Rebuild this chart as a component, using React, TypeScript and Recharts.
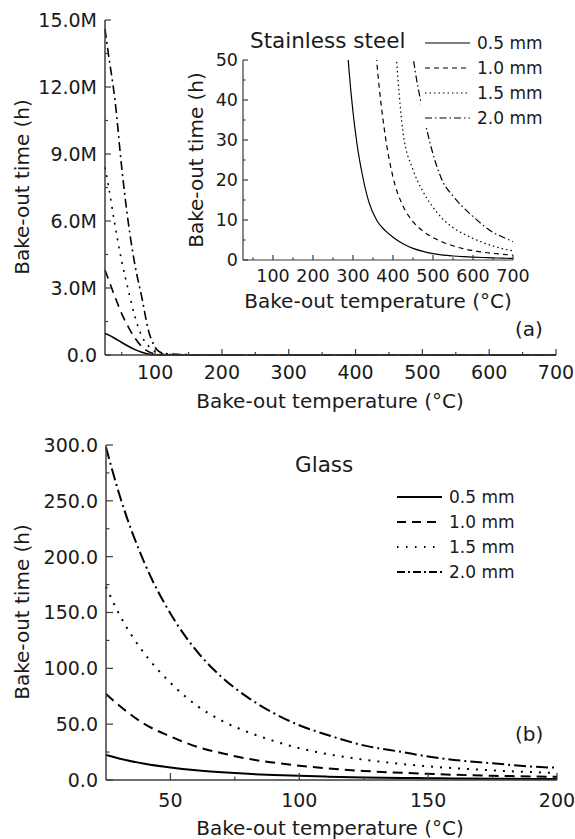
import React from "react";
import { LineChart, Line, XAxis, YAxis } from "recharts";

const FONT = "'DejaVu Sans', sans-serif";
const INK = "#1a1a1a";
const AXIS = "#3c3c3c";

const thicknessLabels = ["0.5 mm", "1.0 mm", "1.5 mm", "2.0 mm"];

// (a) stainless steel, full range, million hours
const steelTemps = [25, 30, 40, 50, 60, 70, 80, 90, 100, 110, 125, 150, 175, 200, 300, 400, 500, 600, 700];
const steel05 = [0.97, 0.9, 0.74, 0.56, 0.39, 0.24, 0.12, 0.04, 0.01, 0.004, 0.002, 0.001, 0, 0, 0, 0, 0, 0, 0];
const steel10 = [3.8, 3.4, 2.6, 1.85, 1.25, 0.75, 0.38, 0.15, 0.05, 0.02, 0.01, 0.003, 0.001, 0, 0, 0, 0, 0, 0];
const steel15 = [8.4, 7.6, 5.8, 4.2, 2.9, 1.7, 0.85, 0.4, 0.15, 0.06, 0.02, 0.01, 0.003, 0.001, 0, 0, 0, 0, 0];
const steel20 = [14.6, 13.5, 11.4, 8.4, 5.9, 4.0, 2.6, 1.1, 0.35, 0.1, 0.04, 0.015, 0.005, 0.002, 0, 0, 0, 0, 0];

// (a) inset, hours
const insetTemps = [275, 290, 300, 310, 325, 340, 360, 380, 400, 425, 450, 475, 500, 525, 550, 575, 600, 625, 650, 675, 700];
const inset05 = [70, 47.5, 37, 29, 20.5, 14.4, 9.8, 7.4, 5.7, 4.05, 2.9, 2.15, 1.6, 1.22, 1.0, 0.84, 0.71, 0.62, 0.54, 0.46, 0.4];
const inset10 = [null, null, null, null, null, 78, 49, 31.5, 20.7, 13.5, 9.6, 7.2, 5.6, 4.45, 3.55, 2.85, 2.35, 1.95, 1.65, 1.42, 1.22];
const inset15 = [null, null, null, null, null, null, null, null, 63, 32, 22.6, 17.1, 13.2, 10.2, 8.1, 6.6, 5.4, 4.35, 3.5, 2.8, 2.3];
const inset20 = [null, null, null, null, null, null, null, null, null, 75, 51, 37, 26.5, 19.5, 16, 13.2, 10.9, 8.7, 6.9, 5.7, 4.6];

// (b) glass, hours
const glassTemps = [25, 30, 40, 50, 60, 70, 80, 90, 100, 110, 125, 140, 150, 160, 175, 190, 200];
const glass05 = [22.4, 19.3, 14.6, 11.2, 8.7, 6.9, 5.5, 4.5, 3.7, 3.1, 2.3, 1.8, 1.6, 1.4, 1.1, 0.9, 0.8];
const glass10 = [77, 67, 50, 39, 30, 24, 19, 15.6, 12.8, 10.6, 8.1, 6.4, 5.5, 4.7, 3.8, 3.2, 2.8];
const glass15 = [173, 149, 113, 87, 67, 53, 43, 35, 28.5, 23.6, 18.2, 14.3, 12.2, 10.6, 8.6, 7.1, 6.3];
const glass20 = [298, 257, 194, 149, 116, 92, 74, 60, 49, 41, 31, 25, 21, 18, 15, 12, 11];

// ticks (major + minor)
const mainXTicks = [50, 100, 150, 200, 250, 300, 350, 400, 450, 500, 550, 600, 650, 700];
const mainYTicks = [0, 1.5, 3, 4.5, 6, 7.5, 9, 10.5, 12, 13.5, 15];
const insetXTicks = [50, 100, 150, 200, 250, 300, 350, 400, 450, 500, 550, 600, 650, 700];
const insetYTicks = [0, 5, 10, 15, 20, 25, 30, 35, 40, 45, 50];
const glassXTicks = [50, 75, 100, 125, 150, 175, 200];
const glassYTicks = [0, 25, 50, 75, 100, 125, 150, 175, 200, 225, 250, 275, 300];

const isMult = (v: number, step: number) => Math.abs(v / step - Math.round(v / step)) < 1e-6;

const dashes = {
  main: ["", "9 6", "2 6", "9 4 2 4"],
  inset: ["", "5 4", "1.5 3", "7 3 1.5 3"],
  glass: ["", "10 6", "2 7", "12 4 2 4"],
  glassKey: ["", "9 6", "1.5 7.5", "8 3 2 3"],
};

const xTick = (step: number, fmt: (v: number) => string, len: number, gap: number, size: number) => (p: any) => {
  const v = p.payload.value;
  const big = isMult(v, step);
  return (
    <g>
      <line x1={p.x} x2={p.x} y1={p.y} y2={p.y - (big ? len : len / 2)} stroke={AXIS} strokeWidth={1.2} />
      {big && (
        <text x={p.x} y={p.y + gap} textAnchor="middle" fontFamily={FONT} fontSize={size} fill={INK}>
          {fmt(v)}
        </text>
      )}
    </g>
  );
};

const yTick = (step: number, fmt: (v: number) => string, len: number, gap: number, size: number) => (p: any) => {
  const v = p.payload.value;
  const big = isMult(v, step);
  return (
    <g>
      <line x1={p.x} x2={p.x + (big ? len : len / 2)} y1={p.y} y2={p.y} stroke={AXIS} strokeWidth={1.2} />
      {big && (
        <text x={p.x - gap} y={p.y + size * 0.36} textAnchor="end" fontFamily={FONT} fontSize={size} fill={INK}>
          {fmt(v)}
        </text>
      )}
    </g>
  );
};

const frame = { stroke: AXIS, strokeWidth: 1.5 };
const thin = { stroke: AXIS, strokeWidth: 1.2 };

export default function App() {
  const steelData = steelTemps.map((t, i) => ({ t, a: steel05[i], b: steel10[i], c: steel15[i], d: steel20[i] }));
  const insetData = insetTemps.map((t, i) => ({ t, a: inset05[i], b: inset10[i], c: inset15[i], d: inset20[i] }));
  const glassData = glassTemps.map((t, i) => ({ t, a: glass05[i], b: glass10[i], c: glass15[i], d: glass20[i] }));
  const keys = ["a", "b", "c", "d"];

  const txt = { fontFamily: FONT, fill: INK };

  return (
    <div style={{ position: "absolute", left: 0, top: 0, width: 575, height: 839, background: "#fff", overflow: "hidden" }}>
      {/* (a) main */}
      <div style={{ position: "absolute", left: 0, top: 0 }}>
        <LineChart width={575} height={420} data={steelData} margin={{ top: 20, right: 19, bottom: 0, left: 0 }}>
          <XAxis dataKey="t" type="number" domain={[25, 700]} ticks={mainXTicks} interval={0} height={65}
            tickSize={0} tickMargin={0} tickLine={false} axisLine={frame}
            tick={xTick(100, (v) => String(v), 6, 24, 19)} />
          <XAxis xAxisId="top" orientation="top" type="number" domain={[0, 1]} height={0} tick={false} tickLine={false} axisLine={frame} />
          <YAxis type="number" domain={[0, 15]} ticks={mainYTicks} interval={0} width={105}
            tickSize={0} tickMargin={0} tickLine={false} axisLine={frame}
            tick={yTick(3, (v) => (v === 0 ? "0.0" : `${v.toFixed(1)}M`), 6, 8, 19)} />
          <YAxis yAxisId="right" orientation="right" type="number" domain={[0, 1]} width={0} tick={false} tickLine={false} axisLine={frame} />
          {keys.map((k, i) => (
            <Line key={k} dataKey={k} type="monotone" stroke="#000" strokeWidth={1.6}
              strokeDasharray={dashes.main[i]} dot={false} activeDot={false} isAnimationActive={false} />
          ))}
        </LineChart>
      </div>

      {/* (a) inset */}
      <div style={{ position: "absolute", left: 150, top: 30 }}>
        <LineChart width={400} height={300} data={insetData} margin={{ top: 30, right: 37, bottom: 0, left: 0 }}>
          <XAxis dataKey="t" type="number" domain={[25, 700]} allowDataOverflow ticks={insetXTicks} interval={0} height={70}
            tickSize={0} tickMargin={0} tickLine={false} axisLine={thin}
            tick={xTick(100, (v) => String(v), 5, 22, 17.5)} />
          <XAxis xAxisId="top" orientation="top" type="number" domain={[0, 1]} height={0} tick={false} tickLine={false} axisLine={thin} />
          <YAxis type="number" domain={[0, 50]} allowDataOverflow ticks={insetYTicks} interval={0} width={93}
            tickSize={0} tickMargin={0} tickLine={false} axisLine={thin}
            tick={yTick(10, (v) => String(v), 5, 5, 17.5)} />
          <YAxis yAxisId="right" orientation="right" type="number" domain={[0, 1]} width={0} tick={false} tickLine={false} axisLine={thin} />
          {keys.map((k, i) => (
            <Line key={k} dataKey={k} type="monotone" stroke="#000" strokeWidth={1.2}
              strokeDasharray={dashes.inset[i]} dot={false} activeDot={false} isAnimationActive={false} />
          ))}
        </LineChart>
      </div>

      {/* (b) glass */}
      <div style={{ position: "absolute", left: 0, top: 420 }}>
        <LineChart width={575} height={419} data={glassData} margin={{ top: 25, right: 18, bottom: 0, left: 0 }}>
          <XAxis dataKey="t" type="number" domain={[25, 200]} ticks={glassXTicks} interval={0} height={59}
            tickSize={0} tickMargin={0} tickLine={false} axisLine={frame}
            tick={xTick(50, (v) => String(v), 7, 27, 19)} />
          <XAxis xAxisId="top" orientation="top" type="number" domain={[0, 1]} height={0} tick={false} tickLine={false} axisLine={frame} />
          <YAxis type="number" domain={[0, 300]} ticks={glassYTicks} interval={0} width={106}
            tickSize={0} tickMargin={0} tickLine={false} axisLine={frame}
            tick={yTick(50, (v) => v.toFixed(1), 7, 8, 19)} />
          <YAxis yAxisId="right" orientation="right" type="number" domain={[0, 1]} width={0} tick={false} tickLine={false} axisLine={frame} />
          {keys.map((k, i) => (
            <Line key={k} dataKey={k} type="monotone" stroke="#000" strokeWidth={2}
              strokeDasharray={dashes.glass[i]} dot={false} activeDot={false} isAnimationActive={false} />
          ))}
        </LineChart>
      </div>

      {/* titles and legends */}
      <svg width={575} height={839} style={{ position: "absolute", left: 0, top: 0, pointerEvents: "none" }}>
        <text {...txt} fontSize={20} x={22} y={187} transform="rotate(-90 22 187)" textAnchor="middle" dominantBaseline="central">
          Bake-out time (h)
        </text>
        <text {...txt} fontSize={20} x={330} y={408} textAnchor="middle">Bake-out temperature (°C)</text>
        <text {...txt} fontSize={20} x={515} y={336}>(a)</text>

        <text {...txt} fontSize={21.5} x={250} y={48}>Stainless steel</text>
        <text {...txt} fontSize={20} x={196} y={160} transform="rotate(-90 196 160)" textAnchor="middle" dominantBaseline="central">
          Bake-out time (h)
        </text>
        <text {...txt} fontSize={20} x={378} y={308} textAnchor="middle">Bake-out temperature (°C)</text>

        <rect x={421} y={28} width={130} height={100} fill="#fff" />
        {thicknessLabels.map((l, i) => (
          <g key={l}>
            <line x1={425} x2={470} y1={43 + i * 25} y2={43 + i * 25} stroke="#000" strokeWidth={1.2} strokeDasharray={dashes.inset[i]} />
            <text {...txt} fontSize={17} x={477} y={49 + i * 25}>{l}</text>
          </g>
        ))}

        <text {...txt} fontSize={20} x={22} y={612} transform="rotate(-90 22 612)" textAnchor="middle" dominantBaseline="central">
          Bake-out time (h)
        </text>
        <text {...txt} fontSize={20} x={330} y={835} textAnchor="middle">Bake-out temperature (°C)</text>
        <text {...txt} fontSize={20} x={515} y={741}>(b)</text>
        <text {...txt} fontSize={21.5} x={295} y={472}>Glass</text>
        {thicknessLabels.map((l, i) => (
          <g key={l}>
            <line x1={397} x2={442} y1={497 + i * 25} y2={497 + i * 25} stroke="#000" strokeWidth={2} strokeDasharray={dashes.glassKey[i]} />
            <text {...txt} fontSize={17} x={449} y={503 + i * 25}>{l}</text>
          </g>
        ))}
      </svg>
    </div>
  );
}
